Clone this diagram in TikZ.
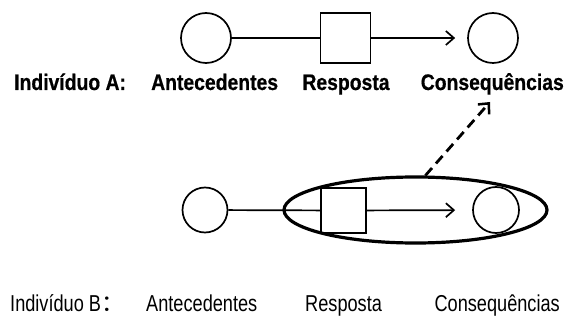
\documentclass[tikz,border=0pt]{standalone}
\usepackage{fontspec}
\setmainfont{Liberation Sans}
\newfontfamily\topfont[FakeStretch=0.86,FakeBold=0.6]{Liberation Sans Bold}
\newfontfamily\botfont[FakeStretch=0.79]{Liberation Sans}
\newfontfamily\cjk{Noto Sans CJK SC}
\usetikzlibrary{arrows.meta,shapes.geometric}
\begin{document}
\begin{tikzpicture}[x=1pt,y=-1pt,
  circ/.style={draw,circle,line width=1.7pt,inner sep=0pt,minimum size=#1},
  sq/.style={draw,rectangle,line width=1.7pt,inner sep=0pt,minimum size=#1},
  conn/.style={line width=1.7pt},
  arr/.style={line width=1.7pt,-{Straight Barb[length=8pt,width=14pt,line width=1.7pt]}},
  toplab/.style={inner sep=0pt,font=\topfont\fontsize{22.5}{24}\selectfont},
  botlab/.style={inner sep=0pt,font=\botfont\fontsize{23}{25}\selectfont}]
\useasboundingbox (0,0) rectangle (572,320);
% top row
\node[circ=50pt] (a1) at (206,38) {};
\node[sq=50pt] (s1) at (345.5,38) {};
\node[circ=50pt] (c1) at (493,38) {};
\draw[conn] (a1) -- (s1);
\draw[arr,shorten >=12pt] (s1) -- (c1);
\node[toplab,anchor=base west] (la1) at (14,90) {Indivíduo A:};
\node[toplab,anchor=base west] (la2) at (151,90) {Antecedentes};
\node[toplab,anchor=base] (la3) at (346,90) {Resposta};
\node[toplab,anchor=base east] (la4) at (564,90) {Consequências};
% bottom row
\node[circ=45pt] (a2) at (205,210) {};
\node[sq=45pt] (s2) at (343.5,210.5) {};
\node[circ=46pt] (c2) at (496,210) {};
\node[draw,ellipse,line width=3.2pt,minimum width=263pt,minimum height=66pt,inner sep=0pt] (ell) at (415.5,210) {};
\draw[conn] (a2) -- (s2);
\draw[arr,shorten >=17pt] (s2) -- (c2);
\coordinate (tip) at (490,102);
\draw[line width=2.8pt,dash pattern=on 10pt off 6pt,-{Straight Barb[length=8pt,width=15pt,line width=2.5pt]}] (ell.74) -- (tip);
\node[botlab,anchor=base west] (lb1) at (10,311) {Indivíduo B{\cjk ：}};
\node[botlab,anchor=base west] (lb2) at (146,311) {Antecedentes};
\node[botlab,anchor=base west] (lb3) at (305,311) {Resposta};
\node[botlab,anchor=base east] (lb4) at (560,311) {Consequências};
\end{tikzpicture}
\end{document}
